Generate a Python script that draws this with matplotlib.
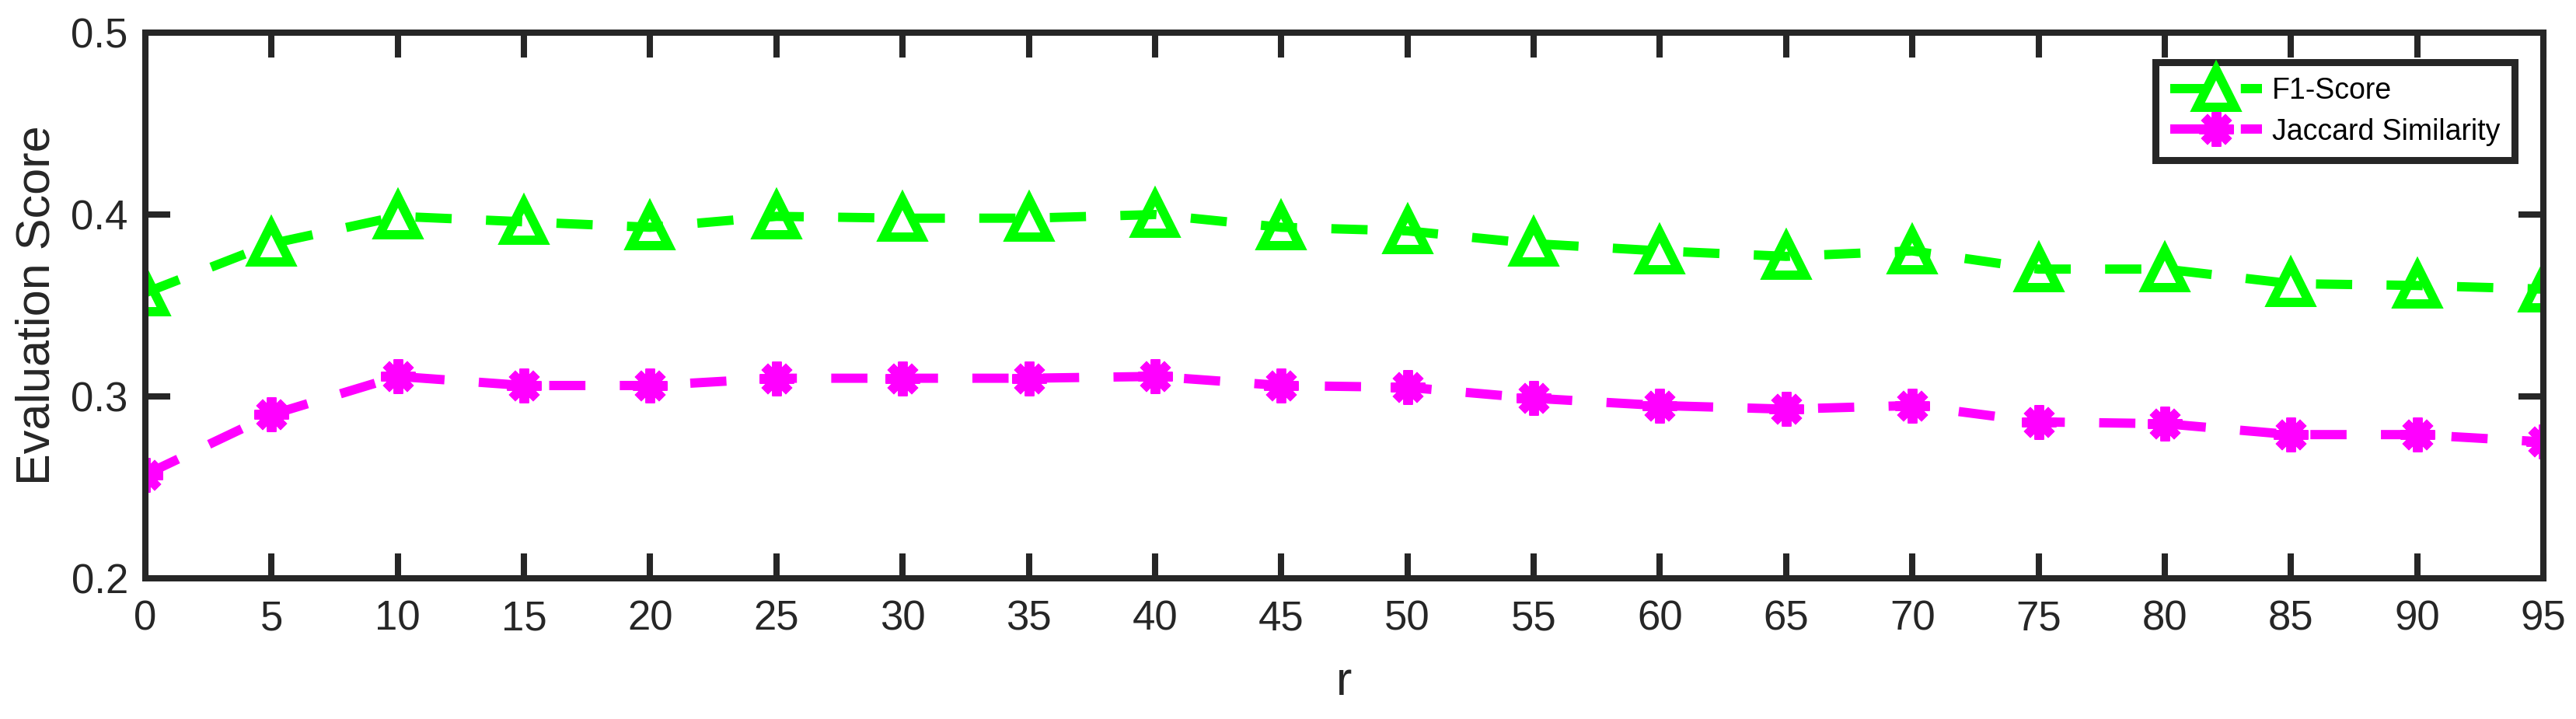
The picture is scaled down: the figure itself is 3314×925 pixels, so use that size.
import numpy as np
import matplotlib
matplotlib.use('Agg')
import matplotlib.pyplot as plt

# dados
r_vals = [0, 5, 10, 15, 20, 25, 30, 35, 40, 45, 50, 55, 60, 65, 70, 75, 80, 85, 90, 95]
f1_score = [0.357, 0.384, 0.399, 0.396, 0.393, 0.399, 0.398, 0.398, 0.400, 0.393,
            0.391, 0.384, 0.380, 0.377, 0.380, 0.370, 0.370, 0.362, 0.361, 0.359]
jaccard = [0.257, 0.290, 0.311, 0.306, 0.306, 0.310, 0.310, 0.310, 0.311, 0.306,
           0.305, 0.299, 0.295, 0.293, 0.295, 0.286, 0.285, 0.279, 0.279, 0.275]
y_ticks = [0.2, 0.3, 0.4, 0.5]

cor_eixo = '#262626'
plt.rcParams['font.family'] = ['Liberation Sans', 'DejaVu Sans']

fig = plt.figure(figsize=(33.14, 9.25), dpi=100)
ax = fig.add_axes([0.05643, 0.19568, 0.93090, 0.75892])

lw = 8.6  # espessura das linhas (pt)
ax.plot(r_vals, f1_score, color='#00ff00', linestyle='--', dashes=(3.9, 3.7), linewidth=lw,
        marker='^', markersize=35, markerfacecolor='none', markeredgewidth=lw,
        label='F1-Score')
ax.plot(r_vals, jaccard, color='#ff00ff', linestyle='--', dashes=(3.9, 3.7), linewidth=lw,
        marker=(8, 2, 0), markersize=32, markeredgewidth=lw,
        label='Jaccard Similarity')

ax.set_xlim(0, 95)
ax.set_ylim(0.2, 0.5)
ax.set_xticks(r_vals)
ax.set_yticks(y_ticks)
ax.set_yticklabels(['0.2', '0.3', '0.4', '0.5'])

for lado in ax.spines.values():
    lado.set_linewidth(5.8)
    lado.set_color(cor_eixo)
ax.tick_params(direction='in', length=23, width=5.8, colors=cor_eixo, labelsize=38,
               top=True, right=True)
ax.tick_params(axis='x', pad=20)
ax.tick_params(axis='y', pad=16)

ax.set_xlabel('r', fontsize=44, color=cor_eixo, labelpad=20)
ax.set_ylabel('Evaluation Score', fontsize=44, color=cor_eixo, labelpad=11)

leg = ax.legend(loc='upper right', fontsize=27, handlelength=3.15, handletextpad=0.35,
                frameon=True, fancybox=False, borderpad=0.5, labelspacing=0.45,
                borderaxespad=0, bbox_to_anchor=(0.988, 0.946))
leg.get_frame().set_edgecolor(cor_eixo)
leg.get_frame().set_linewidth(6.5)
leg.get_frame().set_alpha(1)

fig.savefig('out.png', dpi=100)
